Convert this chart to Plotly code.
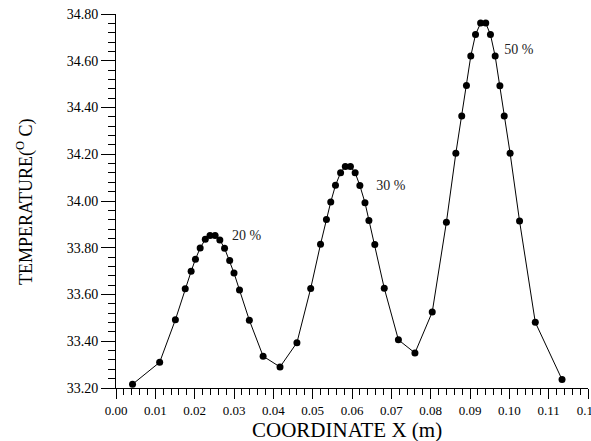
import plotly.graph_objects as go

# Temperature profile along the X coordinate
coord_x = [0.0042, 0.0111, 0.0151, 0.0176, 0.0191, 0.0202, 0.0214, 0.0227, 0.0239,
           0.0252, 0.0264, 0.0276, 0.0289, 0.0300, 0.0314, 0.0339, 0.0374, 0.0417,
           0.0460, 0.0495, 0.0520, 0.0535, 0.0546, 0.0558, 0.0571, 0.0583, 0.0596,
           0.0608, 0.0620, 0.0633, 0.0643, 0.0658, 0.0682, 0.0718, 0.0760,
           0.0804, 0.0840, 0.0864, 0.0879, 0.0891, 0.0902, 0.0914, 0.0927, 0.0940,
           0.0952, 0.0964, 0.0976, 0.0987, 0.1002, 0.1026, 0.1066, 0.1134]
temperature = [33.216, 33.310, 33.492, 33.625, 33.699, 33.751, 33.799, 33.836, 33.852,
               33.852, 33.833, 33.798, 33.745, 33.692, 33.619, 33.490, 33.336, 33.290,
               33.394, 33.626, 33.815, 33.921, 33.996, 34.067, 34.121, 34.148, 34.148,
               34.121, 34.066, 33.993, 33.917, 33.814, 33.627, 33.406, 33.350,
               33.525, 33.909, 34.204, 34.364, 34.494, 34.620, 34.712, 34.761, 34.761,
               34.712, 34.620, 34.493, 34.364, 34.204, 33.914, 33.481, 33.236]

# Axis ticks
x_ticks = [0.00, 0.01, 0.02, 0.03, 0.04, 0.05, 0.06, 0.07, 0.08, 0.09, 0.10, 0.11, 0.12]
y_ticks = [33.20, 33.40, 33.60, 33.80, 34.00, 34.20, 34.40, 34.60, 34.80]

# Peak labels
peak_labels = ["20 %", "30 %", "50 %"]
peak_label_x = [0.0332, 0.0699, 0.1024]
peak_label_y = [33.850, 34.064, 34.646]

FONT = "Liberation Serif, Times New Roman, serif"

fig = go.Figure()
fig.add_trace(go.Scatter(
    x=coord_x, y=temperature, mode="lines+markers",
    line=dict(color="black", width=1),
    marker=dict(color="black", size=7),
    showlegend=False,
))
fig.add_trace(go.Scatter(
    x=peak_label_x, y=peak_label_y, mode="text", text=peak_labels,
    textfont=dict(family=FONT, size=14, color="#222222"),
    showlegend=False,
))

fig.update_layout(
    width=591, height=441,
    margin=dict(l=116, r=3, t=14, b=53),
    paper_bgcolor="white", plot_bgcolor="white",
    font=dict(family=FONT, color="black"),
    xaxis=dict(
        range=[0, 0.1200001], tickmode="array", tickvals=x_ticks,
        ticktext=[f"{v:.2f}" for v in x_ticks],
        ticklabeloverflow="allow",
        showgrid=False, zeroline=False, showline=True, linecolor="black", linewidth=1,
        ticks="outside", ticklen=10, tickwidth=1, tickcolor="black",
        tickfont=dict(family=FONT, size=13),
        minor=dict(dtick=0.002, tick0=0, ticks="outside", ticklen=6, tickcolor="black",
                   showgrid=False),
        automargin=False,
    ),
    yaxis=dict(
        range=[33.2, 34.8000001], tickmode="array", tickvals=y_ticks,
        ticktext=[f"{v:.2f}" for v in y_ticks],
        ticklabeloverflow="allow",
        showgrid=False, zeroline=False, showline=True, linecolor="black", linewidth=1,
        ticks="outside", ticklen=14, tickwidth=1, tickcolor="black",
        tickfont=dict(family=FONT, size=14),
        minor=dict(dtick=0.04, tick0=33.2, ticks="outside", ticklen=7, tickcolor="black",
                   showgrid=False),
        automargin=False,
    ),
    annotations=[
        dict(text="COORDINATE X (m)", xref="paper", yref="paper",
             x=(347 - 116) / 472, y=-(430 - 388) / 374, showarrow=False,
             font=dict(family=FONT, size=21), xanchor="center", yanchor="middle"),
        dict(text="TEMPERATURE(<sup>O</sup> C)", xref="paper", yref="paper",
             x=-(116 - 25) / 472, y=(388 - 202) / 374, showarrow=False, textangle=-90,
             font=dict(family=FONT, size=18), xanchor="center", yanchor="middle"),
    ],
)

fig.write_html("out.html")
